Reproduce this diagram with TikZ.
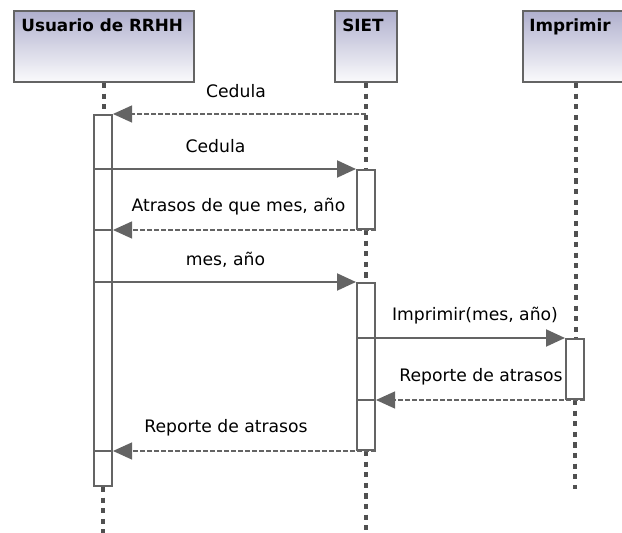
\documentclass[tikz,border=0pt]{standalone}
\usepackage{fontspec}
\setmainfont{DejaVu Sans}
\usepackage{tikz}
\usetikzlibrary{arrows.meta,positioning}
\definecolor{linegray}{RGB}{100,100,100}
\definecolor{dotgray}{RGB}{80,80,80}
\definecolor{headtop}{RGB}{176,176,206}
\tikzset{
  headbox/.style = {rectangle, draw=linegray, line width=1pt, inner sep=0pt,
    top color=headtop, bottom color=white!94!headtop, anchor=north west,
    minimum height=35.5pt},% caja de actor
  headtext/.style = {anchor=base west, inner sep=0pt,
    font=\fontsize{8.4}{10}\selectfont\bfseries},
  actbox/.style = {rectangle, draw=linegray, line width=1pt, fill=white,
    inner sep=0pt, anchor=north west, minimum width=9pt},% activacion
  lifeline/.style = {dotgray, line width=1.6pt, dash pattern=on 2.6pt off 2.7pt},
  divider/.style = {linegray, line width=1pt},
  call/.style = {linegray, line width=1pt, -{Triangle[length=9.5pt,width=8.5pt]}},
  reply/.style = {linegray, line width=0.6pt, dash pattern=on 2.5pt off 1pt,
    -{Triangle[length=9.5pt,width=8.5pt]}},
  msgtext/.style = {anchor=base, inner sep=0pt, font=\fontsize{8.6}{10}\selectfont}
}
\begin{document}
\begin{tikzpicture}[x=0.5pt, y=-0.5pt]
  \useasboundingbox (0,0) rectangle (622,533);
  \clip (0,0) rectangle (622,533);
  \coordinate (bot) at (0,533);
  \coordinate (iend) at (575,489);
  % actores
  \node[headbox, minimum width=90pt] (usr) at (13,10) {};
  \node[headbox, minimum width=31pt] (siet) at (334,10) {};
  \node[headbox, minimum width=53pt] (impr) at (522,10) {};
  \node[headtext] (usrt) at (21,32) {Usuario de RRHH};
  \node[headtext] (siett) at (342,32) {SIET};
  \node[headtext] (imprt) at (529,32) {Imprimir};
  % activaciones
  \node[actbox, minimum height=185.5pt] (ua) at (93,114) {};
  \node[actbox, minimum height=29.5pt] (sa1) at (356,169) {};
  \node[actbox, minimum height=83.5pt] (sa2) at (356,282) {};
  \node[actbox, minimum height=30pt] (ia) at (565,338) {};
  % lineas de vida
  \draw[lifeline] (usr.south) -- (usr.south |- ua.north);
  \draw[lifeline] (ua.south) -- (ua.south |- bot);
  \draw[lifeline] (siet.south) -- (siet.south |- sa1.north);
  \draw[lifeline] (sa1.south) -- (sa2.north);
  \draw[lifeline] (sa2.south) -- (sa2.south |- bot);
  \draw[lifeline] (impr.south) -- (impr.south |- ia.north);
  \draw[lifeline] (ia.south) -- (iend);
  % mensajes
  \draw[reply] (siet.south |- ua.north) -- (ua.north east);
  \node[msgtext] (t1) at (236,97.5) {Cedula};
  \draw[call] (ua.west |- sa1.north) -- (sa1.north west);
  \node[msgtext] (t2) at (215.5,152.5) {Cedula};
  \draw[divider] (ua.west |- sa1.south) -- (ua.east |- sa1.south);
  \draw[reply] (sa1.south east) -- (sa1.south east -| ua.east);
  \node[msgtext] (t3) at (238.5,211.5) {Atrasos de que mes, año};
  \draw[call] (ua.west |- sa2.north) -- (sa2.north west);
  \node[msgtext] (t4) at (225.5,265.5) {mes, año};
  \draw[call] (sa2.west |- ia.north) -- (ia.north west);
  \node[msgtext] (t5) at (475,320.5) {Imprimir(mes, año)};
  \draw[divider] (sa2.west |- ia.south) -- (sa2.east |- ia.south);
  \draw[reply] (ia.south east) -- (ia.south east -| sa2.east);
  \node[msgtext] (t6) at (481,381.5) {Reporte de atrasos};
  \draw[divider] (ua.west |- sa2.south) -- (ua.east |- sa2.south);
  \draw[reply] (sa2.south east) -- (sa2.south east -| ua.east);
  \node[msgtext] (t7) at (226,432.5) {Reporte de atrasos};
\end{tikzpicture}
\end{document}
